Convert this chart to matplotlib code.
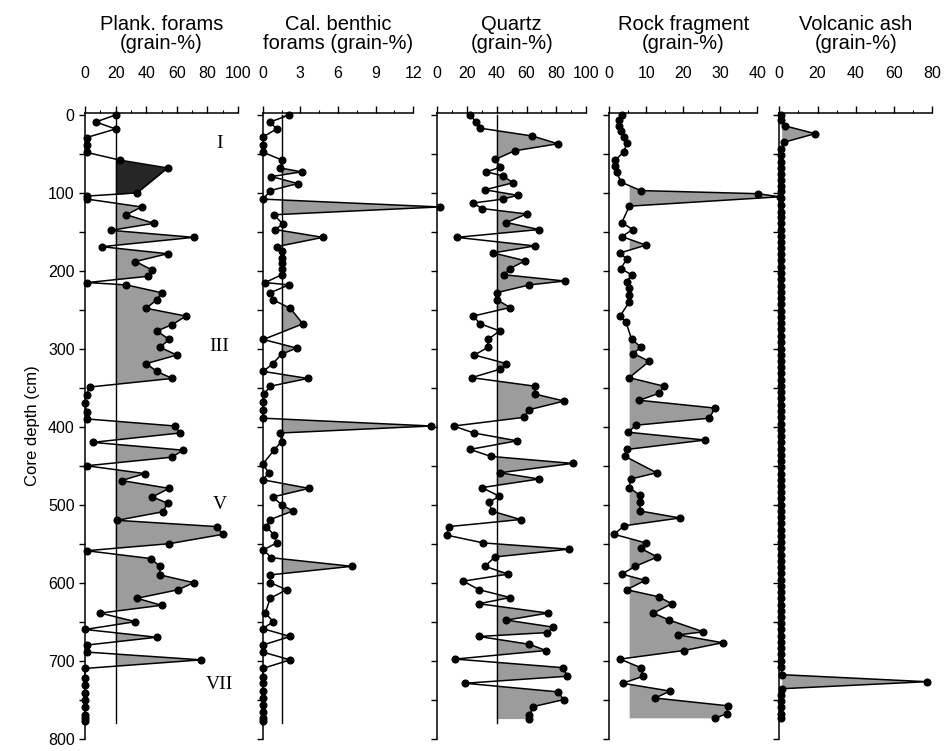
import matplotlib
matplotlib.use("Agg")
import matplotlib.pyplot as plt
from matplotlib.ticker import MultipleLocator

# ---- data (depth in cm, value in grain-%) ----
plank_depth = [0, 9, 18, 29, 38, 48, 58, 68, 100, 104, 108, 118, 128, 139, 148, 157, 169, 178,
               188, 199, 207, 215, 218, 228, 237, 248, 258, 269, 277, 288, 298, 308, 319, 329,
               338, 349, 359, 369, 381, 390, 399, 408, 420, 430, 439, 450, 460, 469, 479, 490,
               498, 509, 520, 528, 538, 550, 559, 569, 579, 590, 600, 609, 620, 629, 639, 650,
               660, 670, 680, 689, 699, 710, 722, 731, 741, 751, 760, 770, 774, 778]
plank_val = [20, 7, 20, 1, 1, 1, 23, 54, 34, 1.5, 1.5, 37, 27, 45, 17, 71, 11, 54,
             33, 44, 41, 1.5, 27, 50, 47, 40, 66, 57, 47, 55, 49, 60, 40, 47,
             57, 3, 1, 0, 1, 1.5, 59, 62, 5, 64, 57, 1, 39, 24, 55, 44,
             54, 51, 21, 86, 90, 55, 1, 43, 49, 49, 71, 61, 34, 50, 10, 33,
             0, 47, 1, 1, 76, 0, 0, 0, 0, 0, 0, 0, 0, 0]

benth_depth = [0, 9, 18, 28, 38, 48, 58, 68, 73, 79, 88, 97, 108, 118, 128, 140, 147, 157, 169,
               175, 184, 190, 198, 205, 215, 218, 228, 237, 248, 268, 288, 299, 307, 319, 329,
               338, 348, 358, 368, 378, 389, 399, 408, 419, 430, 448, 459, 468, 479, 490, 500,
               508, 519, 528, 539, 549, 558, 568, 579, 590, 600, 609, 620, 639, 650, 659, 669,
               680, 689, 699, 710, 721, 729, 739, 748, 757, 766, 774, 778]
benth_val = [2.1, 0.6, 1.1, 0.05, 0.05, 0.05, 1.56, 1.4, 3.1, 0.7, 2.8, 0.6, 0.05, 14.1, 0.9, 1.6,
             1.0, 4.8, 1.1, 1.5, 1.5, 1.5, 1.5, 1.5, 0.2, 2.1, 0.6, 0.8, 2.2, 3.2, 0.05, 2.7, 1.5,
             0.8, 0.05, 3.6, 0.6, 0.1, 0.05, 0.05, 0.05, 13.45, 1.4, 1.5, 0.9, 0, 0.5, 0, 3.7,
             0.8, 1.5, 2.4, 0.6, 0.3, 0.9, 1.1, 0.05, 0.7, 7.1, 0.6, 0.6, 1.9, 0.6, 0.2, 0.85,
             0, 2.2, 0, 0, 2.2, 0, 0, 0, 0, 0, 0, 0, 0, 0]

quartz_depth = [0, 9, 17, 27, 37, 46, 57, 67, 73, 78, 87, 96, 103, 108, 113, 120, 127, 138, 147,
                157, 168, 177, 187, 197, 205, 213, 218, 228, 237, 247, 258, 268, 277, 288, 298,
                308, 319, 326, 337, 348, 358, 367, 378, 388, 399, 408, 418, 429, 438, 447, 459,
                467, 478, 489, 497, 508, 519, 528, 539, 549, 557, 567, 579, 589, 598, 609, 619,
                627, 639, 648, 657, 664, 669, 679, 687, 698, 709, 720, 729, 740, 750, 759, 770, 775]
quartz_val = [22, 26, 29, 64, 81, 52, 39, 42.5, 33, 44, 51, 32, 54, 44, 24, 30, 60, 46.5, 68.5,
              13, 65.6, 37.6, 59, 49, 45, 85.7, 62, 40, 40, 49, 24, 29, 42, 34, 34,
              25, 46.5, 42.5, 23, 66, 65.6, 85.3, 62, 58, 11, 24.6, 53.7, 22, 36, 91, 42,
              68.5, 30, 41.6, 35, 36.5, 56, 8, 6.3, 31, 88.6, 38.7, 32, 47.7, 17.5, 28, 49,
              28, 74.5, 46.5, 78, 74, 28, 62, 73, 12, 84.6, 87.5, 18.6, 81, 85, 64.4, 62, 62]

rock_depth = [0, 6, 14, 21, 28, 36, 47, 58, 66, 73, 86, 97, 101, 105, 117, 138, 147, 156, 167,
              177, 185, 197, 205, 214, 222, 231, 240, 258, 266, 287, 298, 306, 316, 337, 348,
              357, 366, 376, 389, 398, 407, 417, 429, 438, 459, 467, 478, 488, 497, 508, 517,
              527, 538, 549, 556, 567, 579, 589, 597, 609, 618, 627, 639, 648, 663, 667, 677,
              687, 698, 709, 720, 729, 739, 748, 758, 768, 774]
rock_val = [3.3, 2.7, 2.7, 3.1, 4, 4.7, 4, 1.6, 1.6, 2, 3.1, 8.5, 40.3, 46, 5.4, 3.4, 6.3, 3.4, 9.9,
            2.9, 4.7, 3.1, 6, 4.7, 5.4, 5.4, 5.4, 2.9, 4.5, 6, 8.5, 6.5, 10.8, 5.4, 14.8,
            13.5, 8.1, 28.6, 27, 7.2, 5.1, 25.9, 4.9, 4.3, 12.8, 5.8, 5.4, 8.3, 8.3, 8.3, 19.1,
            4, 1.3, 9.9, 8.5, 13, 7, 3.4, 9.7, 4.7, 13.3, 16.9, 11.9, 16.2, 25.4, 18.7, 30.6,
            20.2, 2.9, 8.5, 9.2, 3.6, 16.4, 12.4, 32.2, 31.7, 28.6]

ash_depth = [0, 7, 14, 24, 35, 44, 51, 60, 68, 76, 84, 91, 98, 107, 115, 124, 131, 139, 147, 155,
             163, 171, 178, 186, 195, 203, 211, 219, 227, 235, 243, 251, 259, 267, 275, 284, 291,
             300, 308, 315, 323, 331, 340, 348, 355, 363, 372, 380, 388, 396, 404, 412, 420, 428,
             436, 444, 452, 460, 468, 476, 484, 492, 500, 508, 516, 524, 532, 540, 548, 556, 564,
             572, 580, 588, 596, 604, 612, 620, 628, 636, 644, 652, 660, 668, 676, 684, 692, 700,
             708, 718, 727, 736, 744, 752, 760, 768, 774]
ash_val = [1, 1, 3, 18.7, 2.5, 1, 1, 1, 1, 1, 1, 1, 1, 1, 1, 1, 1, 1, 1, 1,
           1, 1, 1, 1, 1, 1, 1, 1, 1, 1, 1, 1, 1, 1, 1, 1, 1,
           1, 1, 1, 1, 1, 1, 1, 1, 1, 1, 1, 1, 1, 1, 1, 1, 1,
           1, 1, 1, 1, 1, 1, 1, 1, 1, 1, 1, 1, 1, 1, 1, 1, 1,
           1, 1, 1, 1, 1, 1, 1, 1, 1, 1, 1, 1, 1, 1, 1, 1, 1,
           1, 1.5, 77, 1.5, 1, 1, 1, 1, 1]

titles = ["Plank. forams\n(grain-%)", "Cal. benthic\nforams (grain-%)", "Quartz\n(grain-%)",
          "Rock fragment\n(grain-%)", "Volcanic ash\n(grain-%)"]
xmax = [100, 12, 100, 40, 80]
major = [20, 3, 20, 10, 20]
minor = [10, 1.5, 10, 5, 10]
thresh = [20, 1.5, 40, 5.5, 1.5]
thresh_line = [True, True, True, False, False]
units = ["I", "III", "V", "VII"]
unit_depth = [36, 297, 500, 731]

series = [(plank_depth, plank_val), (benth_depth, benth_val), (quartz_depth, quartz_val),
          (rock_depth, rock_val), (ash_depth, ash_val)]

# panel positions in pixels (left, right) on a 947x751 canvas
W, H = 947, 751
xpix = [(85, 238), (262.7, 413.3), (437.3, 586), (609.3, 757.3), (779.3, 932.3)]
top_px, bot_px = 113.4, 738.6

plt.rcParams['font.family'] = ['Liberation Sans', 'DejaVu Sans']
fig = plt.figure(figsize=(W / 100, H / 100), dpi=100)
grey = '#9c9c9c'

for i, (d, v) in enumerate(series):
    l, r = xpix[i]
    ax = fig.add_axes([l / W, 1 - bot_px / H, (r - l) / W, (bot_px - top_px) / H])
    ax.set_xlim(0, xmax[i])
    ax.set_ylim(800, -2)
    ax.fill_betweenx(d, thresh[i], v, where=[x > thresh[i] for x in v], interpolate=True,
                     color=grey, lw=0, clip_on=False)
    if i == 0:
        # dark block near the top of the planktic record
        ax.fill_betweenx(d[5:10], thresh[i], v[5:10], where=[x > thresh[i] for x in v[5:10]],
                         interpolate=True, color='#262626', lw=0)
    if thresh_line[i]:
        ax.plot([thresh[i], thresh[i]], [0, 780], color='black', lw=1)
    ax.plot(v, d, color='black', lw=1.1, marker='o', ms=4.8, clip_on=False, zorder=3)

    for s in ['right', 'bottom']:
        ax.spines[s].set_visible(False)
    ax.spines['left'].set_linewidth(1.1)
    ax.spines['top'].set_linewidth(1.1)
    ax.xaxis.set_ticks_position('top')
    ax.xaxis.set_label_position('top')
    ax.xaxis.set_major_locator(MultipleLocator(major[i]))
    ax.xaxis.set_minor_locator(MultipleLocator(minor[i]))
    ax.tick_params(axis='x', which='major', direction='out', length=5, width=1,
                   pad=18, labelsize=11.5)
    ax.tick_params(axis='x', which='minor', direction='out', length=2.5, width=0.8)
    ax.yaxis.set_major_locator(MultipleLocator(100))
    ax.yaxis.set_minor_locator(MultipleLocator(50))
    ax.tick_params(axis='y', which='both', direction='out', length=4, width=1, labelsize=11.5)
    if i > 0:
        ax.tick_params(axis='y', which='both', labelleft=False)
    else:
        ax.set_ylabel('Core depth (cm)', fontsize=12, labelpad=6)
        for u, ud in zip(units, unit_depth):
            ax.text(88, ud, u, family=['Liberation Serif', 'DejaVu Serif'], fontsize=14,
                    ha='center', va='center')
    ax.patch.set_visible(False)
    fig.text(((l + r) / 2) / W, 1 - 34 / H, titles[i], ha='center', va='center',
             fontsize=14.5, multialignment='center', linespacing=1.05)

fig.savefig('out.png', dpi=100)
